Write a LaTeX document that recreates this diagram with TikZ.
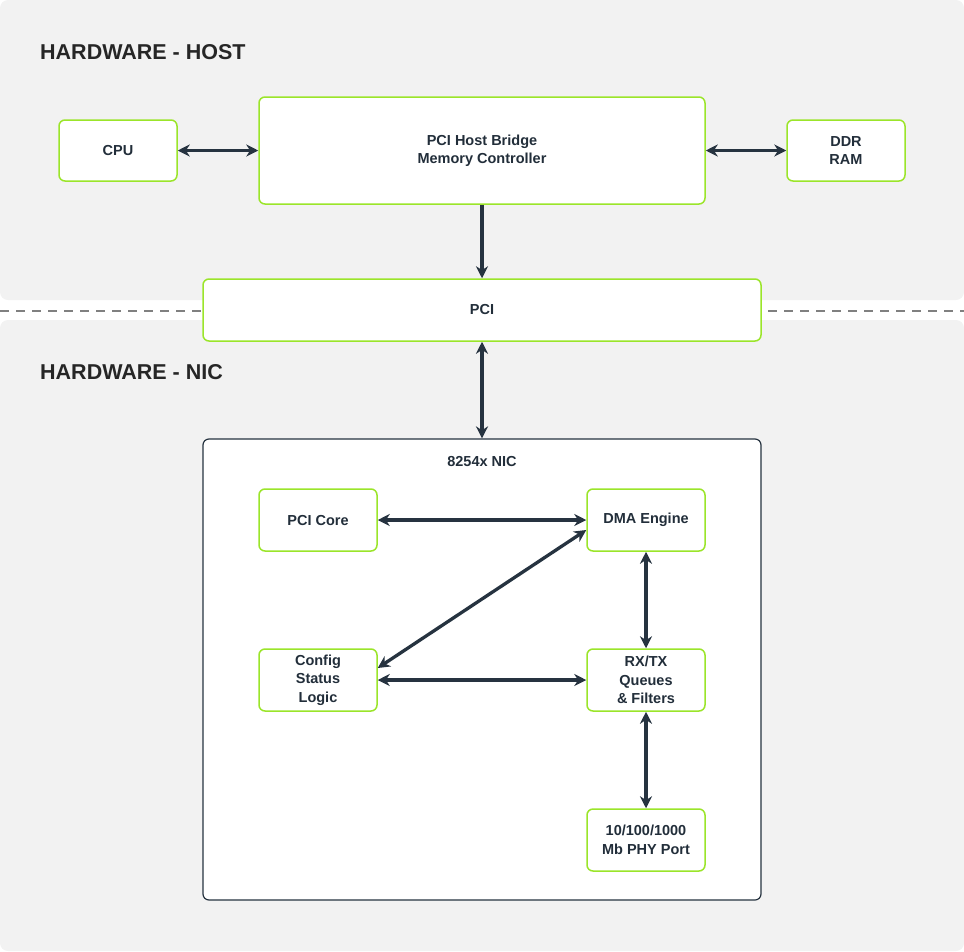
\documentclass[tikz,border=0pt]{standalone}
\usepackage{fontspec}
\setmainfont{Liberation Sans}
\usetikzlibrary{arrows.meta}
\definecolor{panel}{HTML}{F2F2F2}
\definecolor{grn}{HTML}{9BE52A}
\definecolor{dark}{HTML}{263340}
\begin{document}
\begin{tikzpicture}[x=1pt,y=-1pt,
  box/.style={draw=grn,line width=1.5pt,fill=white,rounded corners=6pt,font=\bfseries\fontsize{14.5}{18.5}\selectfont,align=center,text=dark!90!black},
  arr/.style={draw=dark,line width=3.3pt,{Stealth[length=12pt,width=12pt]}-{Stealth[length=12pt,width=12pt]}},
  arr1/.style={draw=dark,line width=3.3pt,-{Stealth[length=12pt,width=12pt]}},
  title/.style={font=\bfseries\fontsize{21.5}{25}\selectfont,text=black!85,anchor=west,inner sep=0pt}]
\useasboundingbox (0,0) rectangle (964,951);
\fill[panel,rounded corners=8pt] (0,0) rectangle (964,300);
\fill[panel,rounded corners=8pt] (0,320) rectangle (964,951);
\draw[gray,line width=1.2pt,dash pattern=on 9pt off 7pt] (0,311) -- (964,311);
\node[title] (th) at (40,52) {HARDWARE - HOST};
\node[title] (tn) at (40,372) {HARDWARE - NIC};
\node[box,minimum width=118pt,minimum height=61pt] (cpu) at (118,150.5) {CPU};
\node[box,minimum width=446pt,minimum height=107pt] (br) at (482,150.5) {PCI Host Bridge\\Memory Controller};
\node[box,minimum width=118pt,minimum height=61pt] (ddr) at (846,150.5) {DDR\\RAM};
\node[box,minimum width=558pt,minimum height=62pt] (pci) at (482,310) {PCI};
\node[draw=dark,line width=1.2pt,fill=white,rounded corners=6pt,minimum width=558pt,minimum height=461pt] (nic) at (482,669.5) {};
\node[font=\bfseries\fontsize{14.5}{18}\selectfont,text=dark!90!black] (nl) at (482,462) {8254x NIC};
\node[box,minimum width=118pt,minimum height=62pt] (core) at (318,520) {PCI Core};
\node[box,minimum width=118pt,minimum height=62pt] (dma) at (646,520) {DMA Engine};
\node[box,minimum width=118pt,minimum height=62pt] (cfg) at (318,680) {Config\\Status\\Logic};
\node[box,minimum width=118pt,minimum height=62pt] (rx) at (646,680) {RX/TX\\Queues\\\& Filters};
\node[box,minimum width=118pt,minimum height=62pt] (phy) at (646,840) {10/100/1000\\Mb PHY Port};
\draw[arr] (cpu) -- (br);
\draw[arr] (br) -- (ddr);
\draw[arr1] (br) -- (pci);
\draw[arr] (pci) -- (nic.north);
\draw[arr] (core) -- (dma);
\draw[arr] (cfg.east |- 0,668) -- (dma.west |- 0,530);
\draw[arr] (cfg) -- (rx);
\draw[arr] (dma) -- (rx);
\draw[arr] (rx) -- (phy);
\end{tikzpicture}
\end{document}
